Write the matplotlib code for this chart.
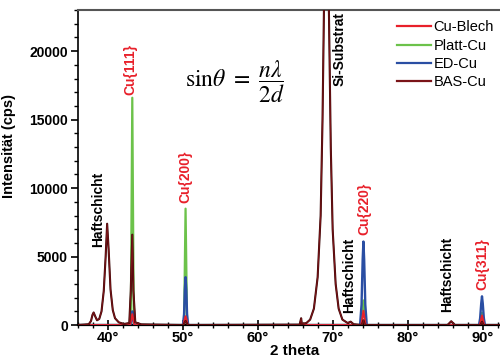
"""
XRD diffractogram of copper layers (Cu-Blech, Platt-Cu, ED-Cu, BAS-Cu).
"""
import matplotlib
matplotlib.use("Agg")
import matplotlib.pyplot as plt
import matplotlib.patheffects as pe
from matplotlib.ticker import MultipleLocator, FuncFormatter

plt.rcParams['font.family'] = ['Liberation Sans', 'DejaVu Sans']
plt.rcParams['mathtext.fontset'] = 'stix'

# --- data (2 theta in degrees, intensity in cps) ---
blech_x = [36.0, 43.0, 43.15, 43.3, 43.45, 43.6, 50.1, 50.25, 50.4, 50.55, 50.7,
           73.8, 73.95, 74.1, 74.25, 74.4, 89.6, 89.75, 89.9, 90.05, 90.2, 92.3]
blech_y = [0, 0, 400, 800, 400, 0, 0, 350, 650, 350, 0,
           0, 500, 1050, 500, 0, 0, 350, 700, 350, 0, 0]

platt_x = [36.0, 43.1, 43.3, 43.5, 50.2, 50.4, 50.6,
           73.8, 73.95, 74.1, 74.25, 74.4, 89.6, 89.75, 89.9, 90.05, 90.2, 92.3]
platt_y = [0, 0, 16600, 0, 0, 8500, 0,
           0, 900, 1800, 900, 0, 0, 500, 900, 500, 0, 0]

ed_x = [36.0, 43.05, 43.2, 43.3, 43.4, 43.55, 50.05, 50.2, 50.3, 50.4, 50.5, 50.6, 50.75,
        73.65, 73.85, 74.0, 74.1, 74.2, 74.35, 74.55,
        89.5, 89.65, 89.8, 89.9, 90.0, 90.15, 90.3, 92.3]
ed_y = [0, 0, 500, 1000, 500, 0, 0, 800, 2600, 3500, 2600, 800, 0,
        0, 1500, 4800, 6100, 4800, 1500, 0,
        0, 500, 1600, 2100, 1600, 500, 0, 0]

bas_x = [36.0, 37.5, 37.8, 38.0, 38.15, 38.35, 38.6, 38.9, 39.2, 39.5, 39.75, 39.95,
         40.15, 40.4, 40.7, 41.0, 41.5, 42.2, 42.9, 43.1, 43.3, 43.45, 43.7, 44.5,
         50.1, 50.4, 50.7, 65.6, 65.8, 65.9, 66.5, 67.0, 67.5, 68.0, 68.4, 68.65,
         68.84, 69.05, 69.17, 69.3, 69.5, 69.75, 70.0, 70.4, 70.8, 71.3, 72.0,
         72.4, 72.8, 73.9, 74.1, 74.3, 85.3, 85.8, 86.3, 89.7, 89.9, 90.1, 92.3]
bas_y = [0, 60, 300, 750, 920, 650, 350, 450, 1000, 2500, 5000, 7400,
         5500, 2600, 1100, 500, 200, 80, 150, 2500, 6600, 2500, 200, 50,
         0, 300, 0, 30, 500, 80, 150, 400, 1200, 3500, 8000, 15000,
         23000, 45000, 60000, 45000, 23000, 13000, 7000, 3000, 1200, 400, 150,
         250, 60, 0, 350, 0, 0, 280, 0, 0, 250, 0, 0]

series_names = ['Cu-Blech', 'Platt-Cu', 'ED-Cu', 'BAS-Cu']
series_colors = ['#e8202a', '#6cc24a', '#2a4ea3', '#7a1418']

# labels: (text, x, y, colour, vertical alignment)
peak_labels = [
    ('Haftschicht', 38.75, 5700, 'black', 'bottom'),
    ('Cu{111}', 43.0, 16800, '#e8202a', 'bottom'),
    ('Cu{200}', 50.35, 8900, '#e8202a', 'bottom'),
    ('Si-Substrat', 70.95, 22850, 'black', 'top'),
    ('Haftschicht', 72.25, 900, 'black', 'bottom'),
    ('Cu{220}', 74.25, 6600, '#e8202a', 'bottom'),
    ('Haftschicht', 85.3, 950, 'black', 'bottom'),
    ('Cu{311}', 89.9, 2550, '#e8202a', 'bottom'),
]

fig = plt.figure(figsize=(5, 3.6), dpi=100)
ax = fig.add_axes([0.155, 0.097, 0.845, 0.875])

ax.plot(platt_x, platt_y, color=series_colors[1], lw=1.6, zorder=2)
ax.plot(ed_x, ed_y, color=series_colors[2], lw=1.7, zorder=3)
ax.plot(blech_x, blech_y, color=series_colors[0], lw=1.4, zorder=4)
ax.plot(bas_x, bas_y, color=series_colors[3], lw=0.8, zorder=5,
        path_effects=[pe.Stroke(linewidth=1.5, foreground='#3a0707'), pe.Normal()])

# legend built from plain lines so the BAS line looks like the others
handles = [plt.Line2D([], [], color=c, lw=1.6) for c in series_colors]
ax.legend(handles, series_names, loc='upper right', bbox_to_anchor=(1.01, 1.0),
          frameon=False, fontsize=10.5, handlelength=2.3, handletextpad=0.2,
          labelspacing=0.3, borderaxespad=0.3)

for text, x, y, col, va in peak_labels:
    ax.text(x, y, text, rotation=90, ha='center', va=va, color=col,
            fontsize=10, fontweight='bold', zorder=6)

fig.text(0.37, 0.772, r'$\mathrm{sin}\theta\ =\ \dfrac{n\lambda}{2d}$',
         fontsize=17, ha='left', va='center')

ax.set_xlim(36, 92.3)
ax.set_ylim(0, 23000)
ax.xaxis.set_major_locator(MultipleLocator(10))
ax.xaxis.set_minor_locator(MultipleLocator(2))
ax.yaxis.set_major_locator(MultipleLocator(5000))
ax.yaxis.set_minor_locator(MultipleLocator(1000))
ax.xaxis.set_major_formatter(FuncFormatter(lambda v, p: f'{v:.0f}°'))

ax.tick_params(axis='x', which='major', direction='inout', length=7, width=1.2,
               labelsize=10.5, pad=1)
ax.tick_params(axis='x', which='minor', direction='inout', length=5, width=1.0)
ax.tick_params(axis='y', which='major', direction='out', length=5, width=1.2,
               labelsize=10, pad=2)
ax.tick_params(axis='y', which='minor', direction='out', length=3, width=1.0)
for lab in ax.get_xticklabels() + ax.get_yticklabels():
    lab.set_fontweight('bold')

ax.spines['right'].set_visible(False)
ax.spines['top'].set_color('#555555')
ax.spines['top'].set_linewidth(1.5)
ax.spines['left'].set_linewidth(1.2)
ax.spines['bottom'].set_linewidth(1.6)

ax.set_ylabel('Intensität (cps)', fontsize=10.5, fontweight='bold')
ax.yaxis.set_label_coords(-0.145, 0.57)
ax.set_xlabel('2 theta', fontsize=11, fontweight='bold')
ax.xaxis.set_label_coords(0.515, -0.06)

fig.savefig('out.png', dpi=100)
